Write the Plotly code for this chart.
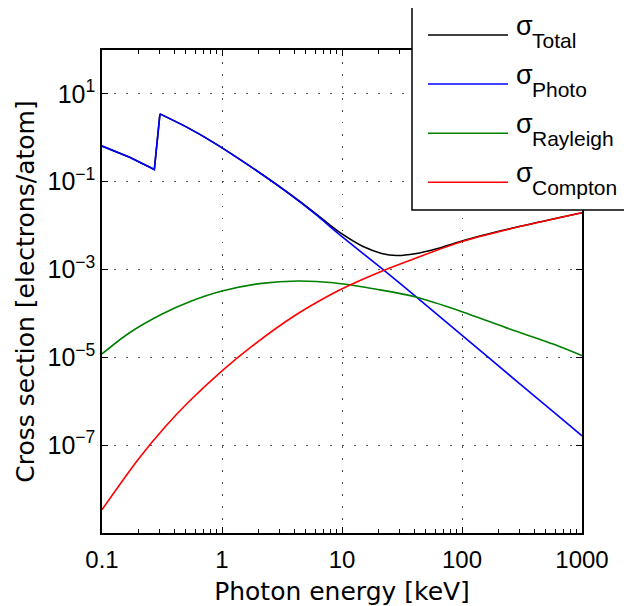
import plotly.graph_objects as go

# ---- data ----
photo_E = [0.1, 0.17, 0.273, 0.304, 0.508, 0.846, 1.71, 3.46, 6.15, 7.94, 10, 21.4, 40.6, 102.5, 300, 656, 1000]
photo_s = [0.65, 0.36, 0.19, 3.51, 1.75, 0.79, 0.226, 0.0589, 0.01734, 9.5e-3, 5.62e-3, 1.06e-3, 2.51e-4, 3.0e-5, 2.56e-6, 4.28e-7, 1.63e-7]

rayl_E = [0.1, 0.166, 0.314, 0.55, 1.0, 2.14, 4.3, 8.5, 20, 40.6, 100, 250, 656, 1000]
rayl_s = [1.2e-5, 3.5e-5, 9.6e-5, 1.9e-4, 3.25e-4, 4.85e-4, 5.5e-4, 5.0e-4, 3.5e-4, 2.4e-4, 1.1e-4, 4.4e-5, 1.75e-5, 1.1e-5]

comp_E = [0.1, 0.2, 0.335, 0.524, 1.0, 1.77, 4.05, 7.94, 11.3, 21.4, 40, 100, 250, 656, 1000]
comp_s = [3.4e-9, 4.73e-8, 2.59e-7, 9.48e-7, 4.93e-6, 1.78e-5, 8.97e-5, 2.63e-4, 4.28e-4, 9.18e-4, 1.77e-3, 4.35e-3, 8.42e-3, 1.53e-2, 1.97e-2]

total_E = [0.1, 0.17, 0.273, 0.304, 0.508, 0.846, 1.71, 3.46, 6.15, 7.94, 10, 15, 21.4, 28.6, 40.6, 61.5, 100, 250, 656, 1000]
total_s = [0.65, 0.36, 0.19, 3.51, 1.75, 0.79, 0.227, 0.0591, 0.01805, 0.01026, 6.47e-3, 3.34e-3, 2.33e-3, 2.09e-3, 2.29e-3, 2.97e-3, 4.49e-3, 8.47e-3, 1.53e-2, 1.97e-2]

K_EDGE = 0.304  # first point above the carbon K absorption edge

x_tickvals = [0.1, 1, 10, 100, 1000]
x_ticktext = ["0.1", "1", "10", "100", "1000"]
y_tickvals = [1e-7, 1e-5, 1e-3, 1e-1, 1e1]
y_ticktext = ["10<sup>\u22127</sup>", "10<sup>\u22125</sup>", "10<sup>\u22123</sup>",
              "10<sup>\u22121</sup>", "10<sup>1</sup>"]

legend_symbols = ["\u03c3", "\u03c3", "\u03c3", "\u03c3"]
legend_subs = ["Total", "Photo", "Rayleigh", "Compton"]
colors = ["#000000", "#0000ff", "#008000", "#ff0000"]

fig = go.Figure()
LW = 1.6


def add_series(xs, ys, color, name):
    if K_EDGE in xs:
        k = xs.index(K_EDGE)
        # below the edge and the edge jump: straight segments
        fig.add_trace(go.Scatter(x=xs[:k + 1], y=ys[:k + 1], mode="lines", name=name,
                                 line=dict(color=color, width=LW), showlegend=False))
        # above the edge: smooth curve
        fig.add_trace(go.Scatter(x=xs[k:], y=ys[k:], mode="lines", name=name,
                                 line=dict(color=color, width=LW, shape="spline", smoothing=0.8),
                                 showlegend=False))
    else:
        fig.add_trace(go.Scatter(x=xs, y=ys, mode="lines", name=name,
                                 line=dict(color=color, width=LW, shape="spline", smoothing=0.8),
                                 showlegend=False))


series = [(total_E, total_s), (photo_E, photo_s), (rayl_E, rayl_s), (comp_E, comp_s)]
for (xs, ys), c, nm in zip(series, colors, legend_subs):
    add_series(xs, ys, c, "\u03c3 " + nm)

OFF = 8  # page body margin
W, H = 632 - OFF, 606 - OFF
L, R, T, B = 102 - OFF, 50, 50 - OFF, 73
pw, ph = W - L - R, H - T - B


def px(xp):  # page x pixel -> paper
    return (xp - OFF - L) / pw


def py(yp):  # page y pixel -> paper
    return (H - B - (yp - OFF)) / ph


# manual legend box
fig.add_shape(type="rect", xref="paper", yref="paper",
              x0=px(412), x1=px(629), y0=py(210), y1=py(7),
              fillcolor="white", line=dict(color="black", width=1.5), layer="above")
for i, (sym, sub, c) in enumerate(zip(legend_symbols, legend_subs, colors)):
    yl = 35 + 49.1 * i
    fig.add_shape(type="line", xref="paper", yref="paper",
                  x0=px(428), x1=px(508), y0=py(yl), y1=py(yl),
                  line=dict(color=c, width=1.5), layer="above")
    fig.add_annotation(xref="paper", yref="paper", x=px(514), y=py(yl - 9),
                       text=sym, showarrow=False, xanchor="left", yanchor="middle",
                       font=dict(family="Liberation Sans", size=27, color="black"))
    fig.add_annotation(xref="paper", yref="paper", x=px(530), y=py(yl + 5),
                       text=sub, showarrow=False, xanchor="left", yanchor="middle",
                       font=dict(family="Liberation Sans", size=21, color="black"))

grid = dict(showgrid=True, gridcolor="#555555", gridwidth=1, griddash="1.5px,10.5px")

fig.update_xaxes(type="log", range=[-1, 3], tickmode="array", tickvals=x_tickvals,
                 ticktext=x_ticktext, ticks="inside", ticklen=6, tickcolor="black",
                 showline=True, linecolor="black", linewidth=1.5, mirror="ticks",
                 tickfont=dict(family="Liberation Sans", size=24, color="black"),
                 ticklabelstandoff=4,
                 minor=dict(ticks="inside", ticklen=4, dtick="D1", tickcolor="black", showgrid=False),
                 title=dict(text="Photon energy [keV]", standoff=12,
                            font=dict(family="DejaVu Sans", size=25, color="black")),
                 zeroline=False, **grid)
fig.update_yaxes(type="log", range=[-9, 2], tickmode="array", tickvals=y_tickvals,
                 ticktext=y_ticktext, ticks="inside", ticklen=6, tickcolor="black",
                 showline=True, linecolor="black", linewidth=1.5, mirror="ticks",
                 tickfont=dict(family="Liberation Sans", size=25, color="black"),
                 title=dict(text="Cross section [electrons/atom]", standoff=6,
                            font=dict(family="DejaVu Sans", size=25, color="black")),
                 zeroline=False, **grid)

fig.update_layout(width=W, height=H, margin=dict(l=L, r=R, t=T, b=B, autoexpand=False),
                  paper_bgcolor="white", plot_bgcolor="white", showlegend=False)

fig.write_html("out.html")
